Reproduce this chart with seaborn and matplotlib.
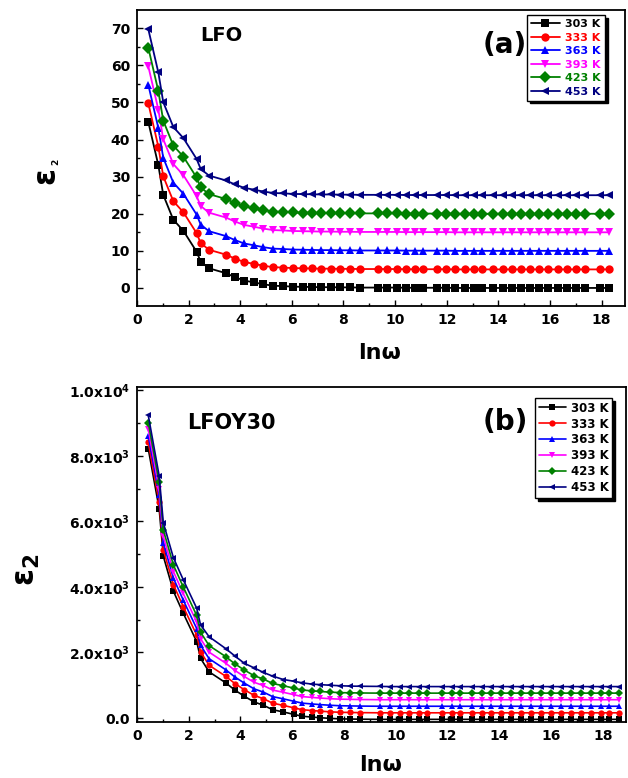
import matplotlib
matplotlib.use("Agg")
import matplotlib.pyplot as plt
import seaborn as sns
import pandas as pd
from matplotlib.ticker import MultipleLocator, FixedLocator, FixedFormatter

# ---------------- data ----------------
temps = ["303 K", "333 K", "363 K", "393 K", "423 K", "453 K"]
colors = ["#000000", "#FF0000", "#0000FF", "#FF00FF", "#008000", "#000080"]
marks = ["s", "o", "^", "v", "D", "<"]

lnw_a = [0.44, 0.83, 1.02, 1.41, 1.80, 2.31, 2.47, 2.79, 3.44, 3.80, 4.15, 4.53,
         4.89, 5.28, 5.66, 6.05, 6.43, 6.77, 7.12, 7.51, 7.87, 8.26, 8.64, 9.35,
         9.70, 10.07, 10.43, 10.78, 11.10, 11.62, 11.98, 12.33, 12.69, 13.04, 13.37, 13.81,
         14.18, 14.53, 14.88, 15.23, 15.59, 15.94, 16.30, 16.65, 17.02, 17.36, 17.95, 18.28]

eps_a_303 = [44.8, 33.1, 25.1, 18.4, 15.4, 9.8, 7.1, 5.3, 4.0, 2.9, 2.0, 1.5,
             1.0, 0.6, 0.5, 0.35, 0.3, 0.25, 0.2, 0.2, 0.15, 0.15, 0.1, 0.1,
             0.1, 0.1, 0.05, 0.05, 0.05, 0.05, 0.05, 0.0, 0.0, 0.0, 0.0, 0.0,
             0.0, 0.0, 0.0, 0.0, 0.0, 0.0, 0.0, 0.0, 0.0, 0.0, 0.0, 0.0]
eps_a_333 = [49.8, 38.1, 30.1, 23.4, 20.4, 14.8, 12.1, 10.3, 9.0, 7.9, 7.0, 6.5,
             6.0, 5.6, 5.5, 5.35, 5.3, 5.25, 5.2, 5.2, 5.15, 5.15, 5.1, 5.1,
             5.1, 5.1, 5.05, 5.05, 5.05, 5.05, 5.05, 5.0, 5.0, 5.0, 5.0, 5.0,
             5.0, 5.0, 5.0, 5.0, 5.0, 5.0, 5.0, 5.0, 5.0, 5.0, 5.0, 5.0]
eps_a_363 = [54.8, 43.1, 35.1, 28.4, 25.4, 19.8, 17.1, 15.3, 14.0, 12.9, 12.0, 11.5,
             11.0, 10.6, 10.5, 10.35, 10.3, 10.25, 10.2, 10.2, 10.15, 10.15, 10.1, 10.1,
             10.1, 10.1, 10.05, 10.05, 10.05, 10.05, 10.05, 10.0, 10.0, 10.0, 10.0, 10.0,
             10.0, 10.0, 10.0, 10.0, 10.0, 10.0, 10.0, 10.0, 10.0, 10.0, 10.0, 10.0]
eps_a_393 = [59.8, 48.1, 40.1, 33.4, 30.4, 24.8, 22.1, 20.3, 19.0, 17.9, 17.0, 16.5,
             16.0, 15.6, 15.5, 15.35, 15.3, 15.25, 15.2, 15.2, 15.15, 15.15, 15.1, 15.1,
             15.1, 15.1, 15.05, 15.05, 15.05, 15.05, 15.05, 15.0, 15.0, 15.0, 15.0, 15.0,
             15.0, 15.0, 15.0, 15.0, 15.0, 15.0, 15.0, 15.0, 15.0, 15.0, 15.0, 15.0]
eps_a_423 = [64.8, 53.1, 45.1, 38.4, 35.4, 29.8, 27.1, 25.3, 24.0, 22.9, 22.0, 21.5,
             21.0, 20.6, 20.5, 20.35, 20.3, 20.25, 20.2, 20.2, 20.15, 20.15, 20.1, 20.1,
             20.1, 20.1, 20.05, 20.05, 20.05, 20.05, 20.05, 20.0, 20.0, 20.0, 20.0, 20.0,
             20.0, 20.0, 20.0, 20.0, 20.0, 20.0, 20.0, 20.0, 20.0, 20.0, 20.0, 20.0]
eps_a_453 = [69.8, 58.1, 50.1, 43.4, 40.4, 34.8, 32.1, 30.3, 29.0, 27.9, 27.0, 26.5,
             26.0, 25.6, 25.5, 25.35, 25.3, 25.25, 25.2, 25.2, 25.15, 25.15, 25.1, 25.1,
             25.1, 25.1, 25.05, 25.05, 25.05, 25.05, 25.05, 25.0, 25.0, 25.0, 25.0, 25.0,
             25.0, 25.0, 25.0, 25.0, 25.0, 25.0, 25.0, 25.0, 25.0, 25.0, 25.0, 25.0]

lnw_b = [0.44, 0.86, 1.02, 1.41, 1.79, 2.31, 2.46, 2.79, 3.43, 3.79, 4.15, 4.53,
         4.89, 5.24, 5.66, 6.05, 6.38, 6.76, 7.08, 7.47, 7.86, 8.25, 8.63, 9.41,
         9.79, 10.18, 10.50, 10.88, 11.21, 11.79, 12.18, 12.50, 12.95, 13.34, 13.67, 14.05,
         14.44, 14.83, 15.21, 15.60, 15.99, 16.37, 16.76, 17.15, 17.53, 17.92, 18.24, 18.63]

eps_b_303 = [8210, 6390, 4940, 3870, 3200, 2330, 1820, 1410, 1075, 850, 665, 490,
             390, 255, 185, 115, 55, 30, 10, -10, -25, -30, -35, -40,
             -40, -40, -40, -40, -40, -40, -40, -40, -40, -40, -40, -40,
             -40, -40, -40, -40, -40, -40, -40, -40, -40, -40, -40, -40]
eps_b_333 = [8410, 6590, 5140, 4070, 3400, 2530, 2020, 1610, 1275, 1050, 865, 690,
             590, 455, 385, 315, 255, 230, 210, 190, 175, 170, 165, 160,
             160, 160, 160, 160, 160, 160, 160, 160, 160, 160, 160, 160,
             160, 160, 160, 160, 160, 160, 160, 160, 160, 160, 160, 160]
eps_b_363 = [8610, 6790, 5340, 4270, 3600, 2730, 2220, 1810, 1475, 1250, 1065, 890,
             790, 655, 585, 515, 455, 430, 410, 390, 375, 370, 365, 360,
             360, 360, 360, 360, 360, 360, 360, 360, 360, 360, 360, 360,
             360, 360, 360, 360, 360, 360, 360, 360, 360, 360, 360, 360]
eps_b_393 = [8810, 6990, 5540, 4470, 3800, 2930, 2420, 2010, 1675, 1450, 1265, 1090,
             990, 855, 785, 715, 655, 630, 610, 590, 575, 570, 565, 560,
             560, 560, 560, 560, 560, 560, 560, 560, 560, 560, 560, 560,
             560, 560, 560, 560, 560, 560, 560, 560, 560, 560, 560, 560]
eps_b_423 = [9010, 7190, 5740, 4670, 4000, 3130, 2620, 2210, 1875, 1650, 1465, 1290,
             1190, 1055, 985, 915, 855, 830, 810, 790, 775, 770, 765, 760,
             760, 760, 760, 760, 760, 760, 760, 760, 760, 760, 760, 760,
             760, 760, 760, 760, 760, 760, 760, 760, 760, 760, 760, 760]
eps_b_453 = [9230, 7390, 5960, 4890, 4220, 3350, 2840, 2480, 2120, 1890, 1670, 1530,
             1390, 1280, 1175, 1125, 1075, 1035, 1020, 1000, 985, 975, 970, 965,
             960, 960, 960, 960, 960, 960, 960, 960, 960, 960, 960, 960,
             960, 960, 960, 960, 960, 960, 960, 960, 960, 960, 960, 960]

yticks_b = [0, 2000, 4000, 6000, 8000, 10000]
yticklabels_b = ["0.0", "2.0x10$^{3}$", "4.0x10$^{3}$", "6.0x10$^{3}$", "8.0x10$^{3}$", "1.0x10$^{4}$"]


def long_frame(x, series):
    rows = []
    for t, ys in zip(temps, series):
        for xi, yi in zip(x, ys):
            rows.append({"lnw": xi, "eps": yi, "T": t})
    return pd.DataFrame(rows)


df_a = long_frame(lnw_a, [eps_a_303, eps_a_333, eps_a_363, eps_a_393, eps_a_423, eps_a_453])
df_b = long_frame(lnw_b, [eps_b_303, eps_b_333, eps_b_363, eps_b_393, eps_b_423, eps_b_453])

# ---------------- style ----------------
sns.set_style("ticks")
plt.rcParams["font.family"] = ["DejaVu Sans"]
plt.rcParams["font.weight"] = "bold"
plt.rcParams["text.color"] = "black"
plt.rcParams["axes.labelcolor"] = "black"
plt.rcParams["xtick.color"] = "black"
plt.rcParams["ytick.color"] = "black"
plt.rcParams["mathtext.fontset"] = "custom"
plt.rcParams["mathtext.rm"] = "DejaVu Sans:bold"
plt.rcParams["mathtext.bf"] = "DejaVu Sans:bold"
plt.rcParams["mathtext.it"] = "DejaVu Sans:bold"

palette = dict(zip(temps, colors))
mk = dict(zip(temps, marks))

fig = plt.figure(figsize=(6.28, 7.78), dpi=100)
ax_a = fig.add_axes([0.218, 0.607, 0.777, 0.380])
ax_b = fig.add_axes([0.218, 0.072, 0.779, 0.4306])


def style_axis(ax):
    for s in ax.spines.values():
        s.set_linewidth(1.3)
        s.set_color("black")
    ax.tick_params(which="both", direction="in", top=False, right=False,
                   width=1.0, labelsize=10, pad=5, colors="black")
    ax.tick_params(which="major", length=4)
    ax.tick_params(which="minor", length=2.5)
    for lab in ax.get_xticklabels() + ax.get_yticklabels():
        lab.set_fontweight("bold")
        lab.set_color("black")


# ---- panel (a)
sns.lineplot(data=df_a, x="lnw", y="eps", hue="T", style="T", hue_order=temps,
             style_order=temps, palette=palette, markers=mk, dashes=False,
             markersize=6, markeredgewidth=0, linewidth=1.3, sort=False,
             errorbar=None, ax=ax_a)
ax_a.set_xlim(0, 18.9)
ax_a.set_ylim(-4.8, 74.9)
ax_a.xaxis.set_major_locator(MultipleLocator(2))
ax_a.xaxis.set_minor_locator(MultipleLocator(1))
ax_a.yaxis.set_major_locator(MultipleLocator(10))
ax_a.yaxis.set_minor_locator(MultipleLocator(5))
style_axis(ax_a)
ax_a.set_xlabel("lnω", fontsize=16, fontweight="bold", color="black")
ax_a.xaxis.set_label_coords(0.498, -0.125)
ax_a.set_ylabel("ε", fontsize=22, fontweight="bold", color="black")
ax_a.yaxis.set_label_coords(-0.156, 0.44)
ax_a.text(-0.166, 0.488, "2", transform=ax_a.transAxes, rotation=90, fontsize=6.5,
          fontweight="bold", ha="center", va="center", color="black")
ax_a.text(0.174, 0.915, "LFO", transform=ax_a.transAxes, fontsize=14,
          fontweight="bold", ha="center", va="center", color="black")
ax_a.text(0.754, 0.882, "(a)", transform=ax_a.transAxes, fontsize=20,
          fontweight="bold", ha="center", va="center", color="black")
h, l = ax_a.get_legend_handles_labels()
leg = ax_a.legend(h, l, loc="upper right", bbox_to_anchor=(0.959, 0.983),
                  borderaxespad=0, fontsize=8, frameon=True, fancybox=False,
                  edgecolor="black", framealpha=1,
                  shadow={"color": "black", "alpha": 1}, handlelength=2.6,
                  labelspacing=0.32, borderpad=0.35, handletextpad=0.5,
                  markerscale=1.0)
leg.get_frame().set_linewidth(1.0)
for txt, c in zip(leg.get_texts(), colors):
    txt.set_color(c)
    txt.set_fontweight("bold")

# ---- panel (b)
sns.lineplot(data=df_b, x="lnw", y="eps", hue="T", style="T", hue_order=temps,
             style_order=temps, palette=palette, markers=mk, dashes=False,
             markersize=4.5, markeredgewidth=0, linewidth=1.2, sort=False,
             errorbar=None, ax=ax_b)
ax_b.set_xlim(0, 18.9)
ax_b.set_ylim(-120, 10100)
ax_b.xaxis.set_major_locator(MultipleLocator(2))
ax_b.xaxis.set_minor_locator(MultipleLocator(1))
ax_b.yaxis.set_major_locator(FixedLocator(yticks_b))
ax_b.yaxis.set_major_formatter(FixedFormatter(yticklabels_b))
ax_b.yaxis.set_minor_locator(MultipleLocator(1000))
style_axis(ax_b)
ax_b.set_xlabel("lnω", fontsize=16, fontweight="bold", color="black")
ax_b.xaxis.set_label_coords(0.498, -0.098)
ax_b.set_ylabel("ε$_{2}$", fontsize=22, fontweight="bold", color="black")
ax_b.yaxis.set_label_coords(-0.195, 0.454)
ax_b.text(0.194, 0.893, "LFOY30", transform=ax_b.transAxes, fontsize=15,
          fontweight="bold", ha="center", va="center", color="black")
ax_b.text(0.753, 0.896, "(b)", transform=ax_b.transAxes, fontsize=20,
          fontweight="bold", ha="center", va="center", color="black")
h, l = ax_b.get_legend_handles_labels()
leg = ax_b.legend(h, l, loc="upper right", bbox_to_anchor=(0.971, 0.967),
                  borderaxespad=0, fontsize=8.5, frameon=True, fancybox=False,
                  edgecolor="black", framealpha=1,
                  shadow={"color": "black", "alpha": 1}, handlelength=2.3,
                  labelspacing=0.25, borderpad=0.3, handletextpad=0.4)
leg.get_frame().set_linewidth(1.0)
for txt in leg.get_texts():
    txt.set_fontweight("bold")
    txt.set_color("black")

fig.savefig("out.png", dpi=100, facecolor="white")
